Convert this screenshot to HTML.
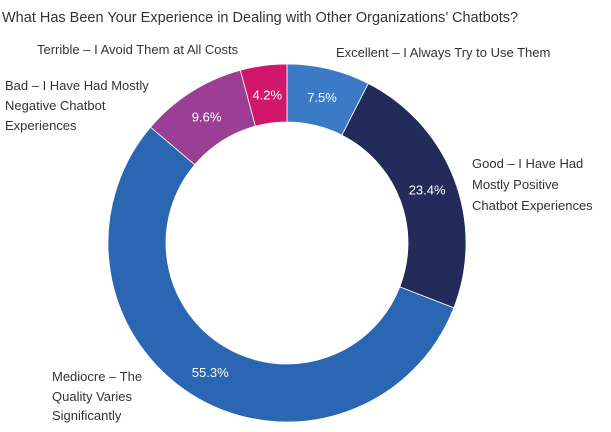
<!DOCTYPE html>
<html><head><meta charset="utf-8"><style>
body{margin:0;background:#fff;width:611px;height:427px;overflow:hidden;font-family:"Liberation Sans",sans-serif}
svg text{font-family:"Liberation Sans",sans-serif}
</style></head><body>
<svg width="611" height="427">
<text x="2" y="22" font-size="14.5" fill="#333">What Has Been Your Experience in Dealing with Other Organizations’ Chatbots?</text>
<g id="slices"></g>
<g id="labels" font-size="13" fill="#333"></g>
</svg>
<script>
const categories=["Excellent","Good","Mediocre","Bad","Terrible"];
const values=[7.5,23.4,55.3,9.6,4.2];
const valueLabels=["7.5%","23.4%","55.3%","9.6%","4.2%"];
const colors=["#3b7bc6","#222b59","#2b66b2","#9b3f94","#d0176b"];
const cx=287,cy=243,R=179,r=121,NS="http://www.w3.org/2000/svg";
const total=values.reduce((a,b)=>a+b,0);
const g=document.getElementById('slices');
function pt(a,rad){return [cx+rad*Math.sin(a),cy-rad*Math.cos(a)];}
let a0=0;
values.forEach((v,i)=>{
  const a1=a0+v/total*2*Math.PI,large=(a1-a0)>Math.PI?1:0;
  const p1=pt(a0,R),p2=pt(a1,R),p3=pt(a1,r),p4=pt(a0,r);
  const p=document.createElementNS(NS,'path');
  p.setAttribute('d',`M${p1}A${R},${R} 0 ${large} 1 ${p2}L${p3}A${r},${r} 0 ${large} 0 ${p4}Z`);
  p.setAttribute('fill',colors[i]);p.setAttribute('stroke','#fff');p.setAttribute('stroke-width','0.8');
  
  
  g.appendChild(p);
  const m=pt((a0+a1)/2,(R+r)/2);
  const t=document.createElementNS(NS,'text');
  t.setAttribute('x',m[0]);t.setAttribute('y',m[1]+5);t.setAttribute('text-anchor','middle');
  t.setAttribute('font-size','13');t.setAttribute('fill','#fff');
  t.textContent=valueLabels[i];
  
  
  g.appendChild(t);
  a0=a1;
});
</script>
<svg width="611" height="427" style="position:absolute;left:0;top:0">
<g font-size="13" fill="#333">
<text x="37" y="54">Terrible – I Avoid Them at All Costs</text>
<text x="336" y="57">Excellent – I Always Try to Use Them</text>
<text><tspan x="5" y="90">Bad – I Have Had Mostly</tspan><tspan x="5" y="110">Negative Chatbot</tspan><tspan x="5" y="130">Experiences</tspan></text>
<text><tspan x="472" y="168">Good – I Have Had</tspan><tspan x="472" y="189">Mostly Positive</tspan><tspan x="472" y="210">Chatbot Experiences</tspan></text>
<text><tspan x="52" y="381">Mediocre – The</tspan><tspan x="52" y="401">Quality Varies</tspan><tspan x="52" y="420">Significantly</tspan></text>
</g></svg>
</body></html>
